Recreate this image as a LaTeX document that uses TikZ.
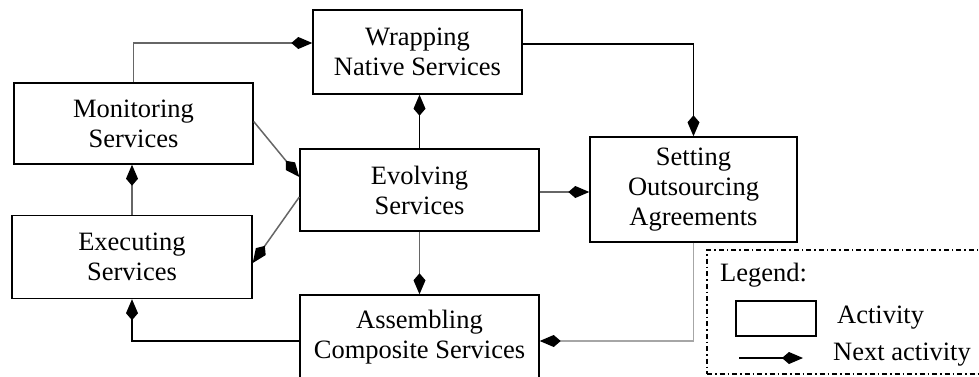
\documentclass[tikz,border=0pt]{standalone}
\usepackage{fontspec}
\setmainfont{Liberation Serif}
\usetikzlibrary{arrows.meta}
\begin{document}
\begin{tikzpicture}[x=1pt,y=-1pt,
  every node/.style={font=\fontsize{26.5}{30}\selectfont},
  actbox/.style={draw, line width=1.4pt, align=center, inner sep=0pt},
  conn/.style={line width=1.5pt, -{Kite[length=21pt,width=12pt,inset=7pt,color=black]}},
  blk/.style={conn, draw=black},
  gry/.style={conn, draw=black!60},
  lgry/.style={conn, draw=black!35},
  legtxt/.style={anchor=west, inner sep=0pt}]
\clip (0,0) rectangle (979,376);
\useasboundingbox (0,0) rectangle (979,376);

\node[actbox, minimum width=209pt, minimum height=84pt] (wrap) at (417.5,52) {Wrapping\\Native Services};
\node[actbox, minimum width=239pt, minimum height=81pt] (mon) at (133.5,123.5) {Monitoring\\Services};
\node[actbox, minimum width=239pt, minimum height=82pt] (evo) at (419.5,190) {Evolving\\Services};
\node[actbox, minimum width=207pt, minimum height=105pt] (set) at (693.5,189.5) {Setting\\Outsourcing\\Agreements};
\node[actbox, minimum width=240pt, minimum height=83pt] (exec) at (132,257) {Executing\\Services};
\node[actbox, minimum width=239pt, minimum height=84pt] (asm) at (419.5,337) {Assembling\\Composite Services};

% connectors
\draw[gry] (mon.north) |- ([yshift=9pt]wrap.west);
\draw[blk] ([yshift=8pt]wrap.east) -| (set.north);
\draw[blk] (evo.north) -- (evo.north |- wrap.south);
\draw[gry] ([yshift=2pt]mon.east) -- ([yshift=13pt]evo.west);
\draw[gry] ([yshift=-7pt]evo.west) -- ([yshift=-6pt]exec.east);
\draw[gry] (exec.north) -- (exec.north |- mon.south);
\draw[gry] ([yshift=-2pt]evo.east) -- ([yshift=-2pt]evo.east -| set.west);
\draw[gry] (evo.south) -- (evo.south |- asm.north);
\draw[lgry] (set.south) |- ([yshift=-4pt]asm.east);
\draw[blk] ([yshift=-4pt]asm.west) -| (exec.south);

% legend
\node[draw, line width=1.3pt, dash pattern=on 5pt off 3pt on 1.5pt off 3pt,
      minimum width=290pt, minimum height=124pt, inner sep=0pt] (leg) at (852,312) {};
\node[legtxt] (legt) at (720,275) {Legend:};
\node[draw, line width=1.4pt, minimum width=80pt, minimum height=35pt, inner sep=0pt] (legbox) at (776,318.5) {};
\node[legtxt] (legact) at (837,318) {Activity};
\coordinate (la) at (739,358);
\coordinate (lb) at (803,358);
\draw[blk] (la) -- (lb);
\node[legtxt] (legnext) at (833,355) {Next activity};
\end{tikzpicture}
\end{document}
